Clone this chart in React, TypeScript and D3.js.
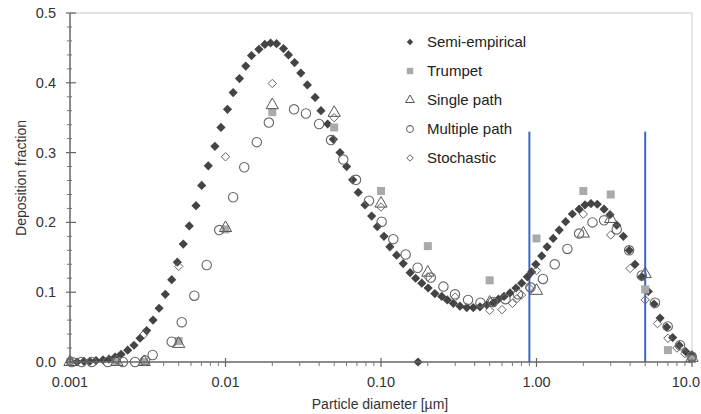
import * as d3 from "d3";

// Semi-empirical model (dense points)
const semiD = [
  0.00101, 0.00111, 0.00123, 0.00134, 0.00147, 0.00163, 0.00178, 0.00195, 0.00213, 0.00235,
  0.00258, 0.00282, 0.00311, 0.00342, 0.00374, 0.0041, 0.00451, 0.0049, 0.00535, 0.00585,
  0.00646, 0.00703, 0.00775, 0.00855, 0.00935, 0.0103, 0.0112, 0.0123, 0.0135, 0.0147,
  0.0164, 0.0179, 0.0195, 0.0213, 0.0236, 0.0254, 0.0278, 0.0305, 0.0336, 0.0377,
  0.0411, 0.0454, 0.0494, 0.0545, 0.0601, 0.0657, 0.0714, 0.0789, 0.0871, 0.0947,
  0.1045, 0.114, 0.126, 0.139, 0.154, 0.167, 0.183, 0.201, 0.222, 0.246,
  0.267, 0.292, 0.322, 0.356, 0.392, 0.433, 0.478, 0.528, 0.569, 0.618,
  0.676, 0.738, 0.803, 0.873, 0.93, 0.99, 1.08, 1.17, 1.28, 1.4,
  1.54, 1.7, 1.88, 2.05, 2.24, 2.46, 2.72, 2.97, 3.28, 3.62,
  3.95, 4.3, 4.75, 5.24, 5.7, 6.23, 6.88, 7.51, 8.28, 9.11,
  9.96, 0.173,
];
const semiV = [
  0.0, 0.0, 0.001, 0.001, 0.002, 0.003, 0.004, 0.007, 0.011, 0.017,
  0.024, 0.034, 0.045, 0.06, 0.077, 0.097, 0.118, 0.143, 0.169, 0.195,
  0.224, 0.253, 0.281, 0.309, 0.336, 0.362, 0.386, 0.406, 0.424, 0.439,
  0.448, 0.455, 0.457, 0.456, 0.449, 0.44, 0.429, 0.414, 0.397, 0.379,
  0.36, 0.341, 0.319, 0.3, 0.28, 0.261, 0.243, 0.225, 0.209, 0.194,
  0.18, 0.165, 0.153, 0.141, 0.128, 0.12, 0.113, 0.106, 0.098, 0.094,
  0.089, 0.084, 0.08, 0.078, 0.078, 0.079, 0.082, 0.085, 0.09, 0.094,
  0.099, 0.106, 0.113, 0.122, 0.129, 0.14, 0.152, 0.165, 0.177, 0.189,
  0.201, 0.212, 0.219, 0.225, 0.227, 0.226, 0.219, 0.211, 0.196, 0.18,
  0.16, 0.14, 0.122, 0.101, 0.083, 0.063, 0.05, 0.035, 0.024, 0.015,
  0.01, 0.0,
];

const trumpetD = [0.001, 0.002, 0.003, 0.005, 0.01, 0.02, 0.05, 0.1, 0.2, 0.5, 1.0, 2.0, 3.0, 5.0, 7.0, 10.0];
const trumpetV = [0.0, 0.0, 0.0, 0.03, 0.19, 0.358, 0.336, 0.245, 0.166, 0.117, 0.177, 0.245, 0.24, 0.104, 0.017, 0.004];

const singleD = [0.001, 0.002, 0.003, 0.005, 0.01, 0.02, 0.05, 0.1, 0.2, 0.5, 1.0, 2.0, 3.0, 5.0, 10.0];
const singleV = [0.0, 0.0, 0.0, 0.026, 0.192, 0.368, 0.357, 0.227, 0.128, 0.085, 0.102, 0.184, 0.205, 0.126, 0.006];

const multiD = [
  0.00103, 0.00119, 0.00138, 0.00175, 0.00219, 0.00262, 0.00304, 0.0034, 0.00451, 0.00523,
  0.0063, 0.00757, 0.00912, 0.0112, 0.0132, 0.0159, 0.019, 0.0276, 0.0329, 0.04,
  0.0477, 0.0572, 0.0691, 0.0837, 0.101, 0.12, 0.144, 0.172, 0.209, 0.252,
  0.299, 0.363, 0.436, 0.525, 0.632, 0.761, 0.915, 1.1, 1.31, 1.58,
  1.88, 2.29, 2.72, 3.28, 3.94, 4.75, 5.78, 6.98, 8.38, 9.96,
];
const multiV = [
  0.0, 0.0, 0.0, 0.0, 0.0, 0.0, 0.002, 0.01, 0.029, 0.057,
  0.095, 0.139, 0.189, 0.236, 0.279, 0.315, 0.343, 0.362, 0.356, 0.341,
  0.318, 0.29, 0.261, 0.231, 0.201, 0.176, 0.154, 0.135, 0.121, 0.108,
  0.097, 0.089, 0.085, 0.086, 0.09, 0.097, 0.107, 0.119, 0.14, 0.162,
  0.184, 0.2, 0.203, 0.19, 0.16, 0.124, 0.085, 0.051, 0.024, 0.008,
];

const stochD = [0.001, 0.002, 0.003, 0.005, 0.01, 0.02, 0.05, 0.1, 0.2, 0.3, 0.5, 0.6, 0.7, 0.75, 0.8, 0.9, 1.0, 2.0, 3.0, 4.0, 5.0, 6.0, 7.0, 8.0, 9.0, 10.0];
const stochV = [0.0, 0.003, 0.04, 0.137, 0.294, 0.399, 0.35, 0.222, 0.122, 0.093, 0.074, 0.075, 0.084, 0.091, 0.096, 0.106, 0.131, 0.212, 0.182, 0.134, 0.089, 0.055, 0.034, 0.02, 0.012, 0.005];

const xTicks = [0.001, 0.01, 0.1, 1, 10];
const xTickLabels = ["0.001", "0.01", "0.10", "1.00", "10.0"];
const yTicks = [0, 0.1, 0.2, 0.3, 0.4, 0.5];
const markerLines = [0.9, 5];
const markerTop = 0.33;
const legendItems = ["Semi-empirical", "Trumpet", "Single path", "Multiple path", "Stochastic"];

const W = 701;
const H = 414;
const x = d3.scaleLog().domain([0.001, 10]).range([70, 692]);
const y = d3.scaleLinear().domain([0, 0.5]).range([362, 13]);
const font = "Liberation Sans, Arial, Helvetica, sans-serif";

const diamond = (s: number) => `M0,${-s}L${s},0L0,${s}L${-s},0Z`;
const tri = d3.symbol().type(d3.symbolTriangle);

const minorX: number[] = [];
for (let e = -3; e < 1; e++) for (let k = 2; k <= 9; k++) minorX.push(k * Math.pow(10, e));
const minorY = d3.range(0, 0.5001, 0.02).filter((v) => Math.abs(v * 10 - Math.round(v * 10)) > 1e-6);

function Marker({ kind, size }: { kind: number; size: number }) {
  if (kind === 0) return <path d={diamond(size)} fill="#444" />;
  if (kind === 1) return <rect x={-size} y={-size} width={size * 2} height={size * 2} fill="#aaa" />;
  if (kind === 2)
    return <path d={tri.size(size * size * 3.2)() || ""} fill="none" stroke="#555" strokeWidth={1} />;
  if (kind === 3) return <circle r={size} fill="none" stroke="#666" strokeWidth={1.1} />;
  return <path d={diamond(size)} fill="none" stroke="#666" strokeWidth={1} />;
}

export default function App() {
  const series = [
    { d: semiD, v: semiV, kind: 0, size: 4.6 },
    { d: trumpetD, v: trumpetV, kind: 1, size: 4.0 },
    { d: singleD, v: singleV, kind: 2, size: 4.5 },
    { d: multiD, v: multiV, kind: 3, size: 4.7 },
    { d: stochD, v: stochV, kind: 4, size: 4.2 },
  ];
  return (
    <svg
      width={W}
      height={H}
      style={{ position: "absolute", left: 0, top: 0, background: "#fff" }}
      fontFamily={font}
    >
      {/* frame */}
      <line x1={70} x2={692} y1={13} y2={13} stroke="#c8c8c8" strokeWidth={1} />
      <line x1={692} x2={692} y1={13} y2={362} stroke="#d0d0d0" strokeWidth={1} />

      {/* blue marker lines */}
      {markerLines.map((m) => (
        <line key={m} x1={x(m)} x2={x(m)} y1={y(markerTop)} y2={y(0)} stroke="#3a68c8" strokeWidth={2} />
      ))}

      {/* data */}
      {series.map((s, i) => (
        <g key={i}>
          {s.d.map((dv, j) => (
            <g key={j} transform={`translate(${x(dv)},${y(s.v[j])})`}>
              <Marker kind={s.kind} size={s.size} />
            </g>
          ))}
        </g>
      ))}

      {/* axes */}
      <line x1={70} x2={70} y1={13} y2={362} stroke="#666" strokeWidth={1.5} />
      <line x1={70} x2={692} y1={362} y2={362} stroke="#666" strokeWidth={1.5} />
      {yTicks.map((t) => (
        <g key={t}>
          <line x1={66} x2={76} y1={y(t)} y2={y(t)} stroke="#666" strokeWidth={1.2} />
          <text x={56} y={y(t)} dy="0.35em" textAnchor="end" fontSize={14.5} fill="#333">
            {t.toFixed(1)}
          </text>
        </g>
      ))}
      {minorY.map((t) => (
        <line key={t} x1={67} x2={72} y1={y(t)} y2={y(t)} stroke="#777" strokeWidth={1} />
      ))}
      {xTicks.map((t, i) => (
        <g key={t}>
          <line x1={x(t)} x2={x(t)} y1={358} y2={367} stroke="#666" strokeWidth={1.2} />
          <text
            x={i === xTicks.length - 1 ? 700 : x(t)}
            y={387}
            textAnchor={i === xTicks.length - 1 ? "end" : "middle"}
            fontSize={14.5}
            fill="#333"
          >
            {xTickLabels[i]}
          </text>
        </g>
      ))}
      {minorX.map((t) => (
        <line key={t} x1={x(t)} x2={x(t)} y1={362} y2={366} stroke="#777" strokeWidth={1} />
      ))}

      <text x={380} y={409} textAnchor="middle" fontSize={14} fill="#333">
        Particle diameter [µm]
      </text>
      <text transform="translate(26,178) rotate(-90)" textAnchor="middle" fontSize={14} fill="#333">
        Deposition fraction
      </text>

      {/* legend */}
      {legendItems.map((name, i) => (
        <g key={name} transform={`translate(410,${42 + i * 29})`}>
          <Marker kind={i} size={i === 3 ? 3.4 : 3.2} />
          <text x={17} dy="0.35em" fontSize={15} fill="#222">
            {name}
          </text>
        </g>
      ))}
    </svg>
  );
}
